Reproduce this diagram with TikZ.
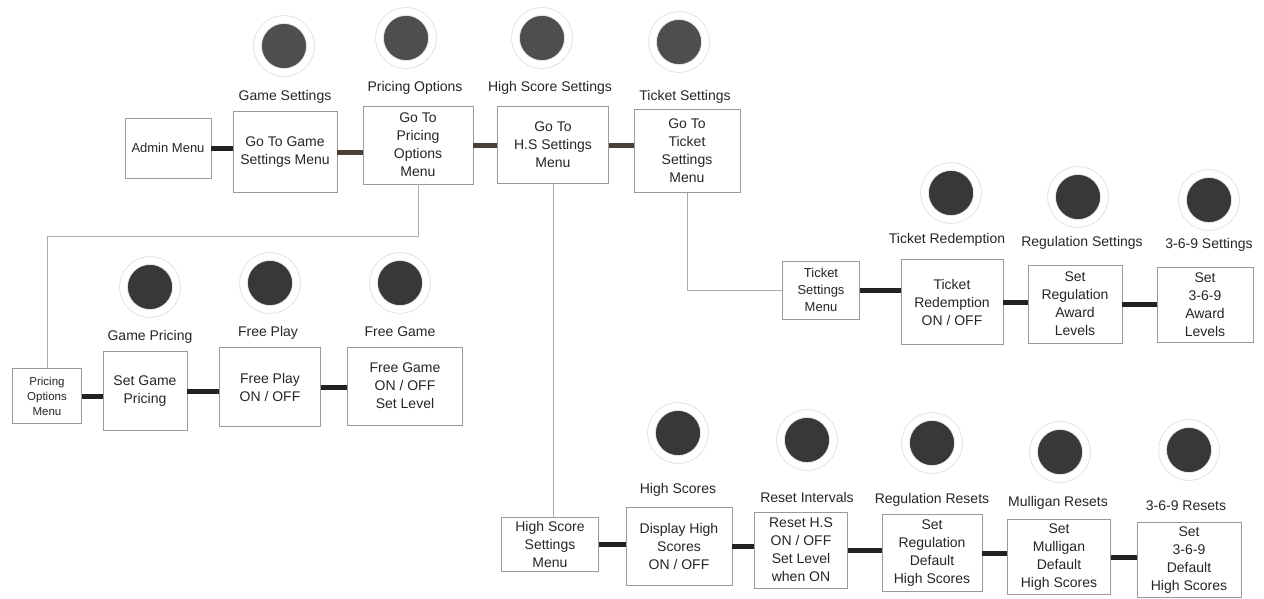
\documentclass[tikz,border=0pt]{standalone}
\usepackage{fontspec}
\setmainfont{Liberation Sans}
\usepackage{xcolor}
\usepackage{tikz}
\usetikzlibrary{positioning,calc}

\definecolor{knob}{HTML}{383838}
\definecolor{knobtop}{HTML}{4E4E4E}
\definecolor{frame}{HTML}{9A9A9A}
\definecolor{barink}{HTML}{222222}
\definecolor{barbrown}{HTML}{4A4038}
\definecolor{ink}{HTML}{262626}

\begin{document}
\begin{tikzpicture}[x=1pt,y=-1pt,
  box/.style={draw=frame,line width=0.9pt,fill=white,align=center,inner sep=2pt,text=ink,
    font=\fontsize{14}{18}\selectfont},
  tag/.style={text=ink,font=\fontsize{14}{17}\selectfont},
  btn/.style={circle,fill=knob,draw=gray!25,double=white,double distance=7pt,line width=0.8pt,
    minimum size=53pt,inner sep=0pt},
  bar/.style={line width=5pt,draw=barink},
  link/.style={line width=1pt,draw=gray!65}]
  \useasboundingbox[fill=white] (0,0) rectangle (1264,598);

  % main menu row
  \node[box,minimum width=86pt,minimum height=60pt,font=\fontsize{13}{17}\selectfont] (admin) at (168,148) {Admin Menu};
  \node[box,minimum width=104pt,minimum height=81pt] (gameset) at (285,152) {Go To Game\\Settings Menu};
  \node[box,minimum width=110pt,minimum height=78pt] (pricing) at (418,145) {Go To\\Pricing\\Options\\Menu};
  \node[box,minimum width=111pt,minimum height=77pt] (hsset) at (553,145) {Go To\\H.S Settings\\Menu};
  \node[box,minimum width=106pt,minimum height=83pt] (ticket) at (687,151) {Go To\\Ticket\\Settings\\Menu};
  \node[tag] (tgameset) at (285,97) {Game Settings};
  \node[tag] (tpricing) at (415,88) {Pricing Options};
  \node[tag] (thsset) at (550,88) {High Score Settings};
  \node[tag] (tticket) at (685,97) {Ticket Settings};
  \node[btn,fill=knobtop] (bgameset) at (284,46) {};
  \node[btn,fill=knobtop] (bpricing) at (406,38) {};
  \node[btn,fill=knobtop] (bhsset) at (542,38) {};
  \node[btn,fill=knobtop] (bticket) at (679,42) {};
  \draw[bar] (admin.east) -- (admin.east -| gameset.west);
  \draw[bar,draw=barbrown] (gameset.east) -- (gameset.east -| pricing.west);
  \draw[bar,draw=barbrown] (pricing.east) -- (pricing.east -| hsset.west);
  \draw[bar,draw=barbrown] (hsset.east) -- (hsset.east -| ticket.west);

  % pricing options
  \node[box,minimum width=69pt,minimum height=55pt,font=\fontsize{11.5}{15}\selectfont] (pom) at (47,396) {Pricing\\Options\\Menu};
  \node[box,minimum width=84pt,minimum height=79pt] (gprice) at (145,391) {Set Game\\Pricing};
  \node[box,minimum width=101pt,minimum height=79pt] (fplay) at (270,387) {Free Play\\ON / OFF};
  \node[box,minimum width=115pt,minimum height=78pt] (fgame) at (405,386) {Free Game\\ON / OFF\\Set Level};
  \node[tag] (tgprice) at (150,337) {Game Pricing};
  \node[tag] (tfplay) at (268,333) {Free Play};
  \node[tag] (tfgame) at (400,332) {Free Game};
  \node[btn] (bgprice) at (150,287) {};
  \node[btn] (bfplay) at (270,283) {};
  \node[btn] (bfgame) at (400,283) {};
  \draw[link] (pricing.south) -- ++(0,52) -| (pom.north);
  \draw[bar] (pom.east) -- (pom.east -| gprice.west);
  \draw[bar] (gprice.east) -- (gprice.east -| fplay.west);
  \draw[bar] (fplay.east) -- (fplay.east -| fgame.west);

  % ticket settings
  \node[box,minimum width=77pt,minimum height=58pt,font=\fontsize{13}{17}\selectfont] (tsm) at (821,290) {Ticket\\Settings\\Menu};
  \node[box,minimum width=102pt,minimum height=85pt] (tred) at (952,302) {Ticket\\Redemption\\ON / OFF};
  \node[box,minimum width=94pt,minimum height=78pt] (regset) at (1075,304) {Set\\Regulation\\Award\\Levels};
  \node[box,minimum width=96pt,minimum height=75pt] (set369) at (1205,305) {Set\\3-6-9\\Award\\Levels};
  \node[tag] (ttred) at (947,240) {Ticket Redemption};
  \node[tag] (tregset) at (1082,243) {Regulation Settings};
  \node[tag] (tset369) at (1209,245) {3-6-9 Settings};
  \node[btn] (btred) at (951,193) {};
  \node[btn] (bregset) at (1078,197) {};
  \node[btn] (bset369) at (1209,200) {};
  \draw[link] (ticket.south) |- (tsm.west);
  \draw[bar] (tsm.east) -- (tsm.east -| tred.west);
  \draw[bar] (tred.east) -- (tred.east -| regset.west);
  \draw[bar] (regset.east) -- (regset.east -| set369.west);

  % high score settings
  \node[box,minimum width=97pt,minimum height=54pt] (hssm) at (550,544) {High Score\\Settings\\Menu};
  \node[box,minimum width=106pt,minimum height=78pt] (dhs) at (679,546) {Display High\\Scores\\ON / OFF};
  \node[box,minimum width=93pt,minimum height=76pt] (rhs) at (801,550) {Reset H.S\\ON / OFF\\Set Level\\when ON};
  \node[box,minimum width=100pt,minimum height=77pt] (regdef) at (932,553) {Set\\Regulation\\Default\\High Scores};
  \node[box,minimum width=103pt,minimum height=75pt] (muldef) at (1059,557) {Set\\Mulligan\\Default\\High Scores};
  \node[box,minimum width=104pt,minimum height=75pt] (def369) at (1189,560) {Set\\3-6-9\\Default\\High Scores};
  \node[tag] (tdhs) at (678,490) {High Scores};
  \node[tag] (trhs) at (807,497) {Reset Intervals};
  \node[tag] (tregdef) at (932,500) {Regulation Resets};
  \node[tag] (tmuldef) at (1058,503) {Mulligan Resets};
  \node[tag] (tdef369) at (1186,506) {3-6-9 Resets};
  \node[btn] (bdhs) at (678,433) {};
  \node[btn] (brhs) at (807,440) {};
  \node[btn] (bregdef) at (932,443) {};
  \node[btn] (bmuldef) at (1060,452) {};
  \node[btn] (bdef369) at (1189,450) {};
  \draw[link] (hsset.south) -- (hsset.south |- hssm.north);
  \draw[bar] (hssm.east) -- (hssm.east -| dhs.west);
  \draw[bar] (dhs.east) -- (dhs.east -| rhs.west);
  \draw[bar] (rhs.east) -- (rhs.east -| regdef.west);
  \draw[bar] (regdef.east) -- (regdef.east -| muldef.west);
  \draw[bar] (muldef.east) -- (muldef.east -| def369.west);
\end{tikzpicture}
\end{document}
